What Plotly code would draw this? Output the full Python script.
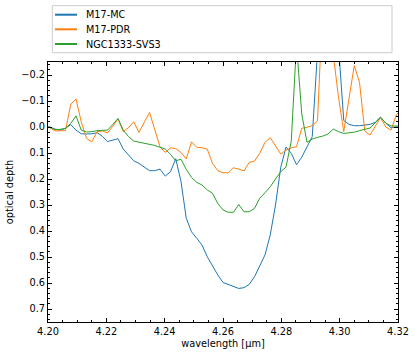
import plotly.graph_objects as go

# ---- data ----
wavelength = [4.1988, 4.2006, 4.2024, 4.2042, 4.2060, 4.2078, 4.2096, 4.2114, 4.2132, 4.2150,
              4.2168, 4.2186, 4.2204, 4.2222, 4.2240, 4.2258, 4.2276, 4.2294, 4.2312, 4.2330,
              4.2348, 4.2366, 4.2384, 4.2402, 4.2420, 4.2438, 4.2456, 4.2474, 4.2492, 4.2510,
              4.2528, 4.2546, 4.2564, 4.2582, 4.2600, 4.2618, 4.2636, 4.2654, 4.2672, 4.2690,
              4.2708, 4.2726, 4.2744, 4.2762, 4.2780, 4.2798, 4.2816, 4.2834, 4.2852, 4.2870,
              4.2888, 4.2906, 4.2924, 4.2942, 4.2960, 4.2978, 4.2996, 4.3014, 4.3032, 4.3050,
              4.3068, 4.3086, 4.3104, 4.3122, 4.3140, 4.3158, 4.3176, 4.3194, 4.3212]

m17_mc = [0.000, 0.000, 0.008, 0.012, 0.005, -0.009, 0.012, 0.026, 0.027, 0.026,
          0.022, 0.035, 0.056, 0.051, 0.045, 0.085, 0.108, 0.130, 0.140, 0.153,
          0.168, 0.168, 0.162, 0.189, 0.172, 0.122, 0.210, 0.351, 0.403, 0.428,
          0.454, 0.499, 0.537, 0.569, 0.598, 0.605, 0.614, 0.621, 0.618, 0.605,
          0.576, 0.537, 0.492, 0.415, 0.300, 0.155, 0.077, 0.101, 0.145, 0.116,
          0.077, 0.037, -0.290, -0.420, -0.450, -0.420, -0.310, -0.025, -0.010, -0.005,
          -0.005, -0.007, -0.010, -0.018, -0.038, -0.015, 0.003, 0.000, 0.000]

m17_pdr = [-0.005, 0.003, 0.015, 0.014, 0.014, -0.087, -0.108, -0.020, 0.044, 0.057,
           0.018, 0.015, 0.023, -0.003, -0.031, 0.018, 0.003, -0.020, 0.021, -0.018,
           -0.056, 0.010, 0.076, 0.098, 0.080, 0.083, 0.098, 0.123, 0.057, 0.078,
           0.080, 0.085, 0.140, 0.168, 0.176, 0.176, 0.157, 0.162, 0.169, 0.136,
           0.131, 0.101, 0.059, 0.041, 0.072, 0.104, 0.089, 0.080, 0.076, 0.005,
           0.001, -0.005, -0.023, -0.480, -0.500, -0.280, -0.114, 0.018, -0.110, -0.236,
           -0.172, 0.015, 0.031, -0.003, -0.036, 0.000, 0.012, -0.046, -0.070]

ngc1333_svs3 = [0.000, 0.000, 0.010, 0.009, 0.005, -0.014, -0.043, 0.012, 0.019, 0.018,
                0.014, 0.012, 0.012, -0.010, -0.033, 0.012, 0.037, 0.054, 0.058, 0.062,
                0.066, 0.071, 0.078, 0.085, 0.105, 0.130, 0.124, 0.163, 0.194, 0.213,
                0.223, 0.242, 0.255, 0.294, 0.319, 0.328, 0.328, 0.298, 0.326, 0.326,
                0.313, 0.274, 0.253, 0.230, 0.200, 0.172, 0.154, 0.055, -0.320, -0.050,
                0.059, 0.046, 0.040, 0.035, 0.027, 0.008, 0.018, 0.025, 0.022, 0.020,
                0.014, 0.008, 0.004, -0.016, -0.037, -0.015, -0.004, -0.004, -0.002]

series_names = ["M17-MC", "M17-PDR", "NGC1333-SVS3"]
series_values = [m17_mc, m17_pdr, ngc1333_svs3]
series_colors = ["#1f77b4", "#ff7f0e", "#2ca02c"]

x_ticks = [4.20, 4.22, 4.24, 4.26, 4.28, 4.30, 4.32]
x_tick_labels = ["4.20", "4.22", "4.24", "4.26", "4.28", "4.30", "4.32"]
y_ticks = [-0.2, -0.1, 0.0, 0.1, 0.2, 0.3, 0.4, 0.5, 0.6, 0.7]
y_tick_labels = ["\u22120.2", "\u22120.1", "0.0", "0.1", "0.2", "0.3", "0.4", "0.5", "0.6", "0.7"]

# ---- layout geometry ----
W, H = 415, 356
ML, MR, MT, MB = 48, 17, 62, 34
PW, PH = W - ML - MR, H - MT - MB
FONT = "DejaVu Sans"


def px_x(px):
    return (px - ML) / PW


def px_y(py):
    return (H - MB - py) / PH


fig = go.Figure()
for name, vals, col in zip(series_names, series_values, series_colors):
    fig.add_trace(go.Scatter(x=wavelength, y=vals, mode="lines", name=name,
                             line=dict(color=col, width=1), showlegend=False))

axis_common = dict(
    showgrid=False, zeroline=False, showline=True, linecolor="black", linewidth=1,
    mirror="allticks", ticks="inside", ticklen=4, tickwidth=1, tickcolor="black",
    tickfont=dict(family=FONT, size=9.8, color="black"),
)

fig.update_xaxes(range=[4.20, 4.32], tickvals=x_ticks, ticktext=x_tick_labels,
                 minor=dict(dtick=0.005, tick0=4.20, ticks="inside", ticklen=2,
                            tickcolor="black", tickwidth=1),
                 title=dict(text="wavelength [μm]", font=dict(family=FONT, size=9.8, color="black"),
                            standoff=4),
                 **axis_common)
fig.update_yaxes(range=[0.75, -0.25], tickvals=y_ticks, ticktext=y_tick_labels,
                 minor=dict(dtick=0.02, tick0=0, ticks="inside", ticklen=2,
                            tickcolor="black", tickwidth=1),
                 title=dict(text="optical depth", font=dict(family=FONT, size=9.8, color="black"),
                            standoff=5),
                 **axis_common)

# legend frame (drawn above the axes, like the reference)
shapes = [dict(type="rect", xref="paper", yref="paper",
               x0=px_x(52.3), x1=px_x(392), y0=px_y(52.7), y1=px_y(5.7),
               line=dict(color="rgb(204,204,204)", width=1), fillcolor="white")]
annotations = []
row_y = [14.7, 29.3, 44.0]
for name, col, ry in zip(series_names, series_colors, row_y):
    shapes.append(dict(type="line", xref="paper", yref="paper",
                       x0=px_x(55), x1=px_x(77), y0=px_y(ry), y1=px_y(ry),
                       line=dict(color=col, width=2)))
    annotations.append(dict(xref="paper", yref="paper", x=px_x(84), y=px_y(ry),
                            xanchor="left", yanchor="middle", showarrow=False,
                            text=name, font=dict(family=FONT, size=9.7, color="black")))

fig.update_layout(
    width=W, height=H,
    margin=dict(l=ML, r=MR, t=MT, b=MB, autoexpand=False),
    paper_bgcolor="white", plot_bgcolor="white",
    font=dict(family=FONT, size=9.8, color="black"),
    shapes=shapes, annotations=annotations, showlegend=False,
    hovermode=False,
)

fig.write_html("out.html",
               config={"displayModeBar": False, "staticPlot": True},
               post_script="document.body.style.margin='0px';document.body.style.overflow='hidden';")
